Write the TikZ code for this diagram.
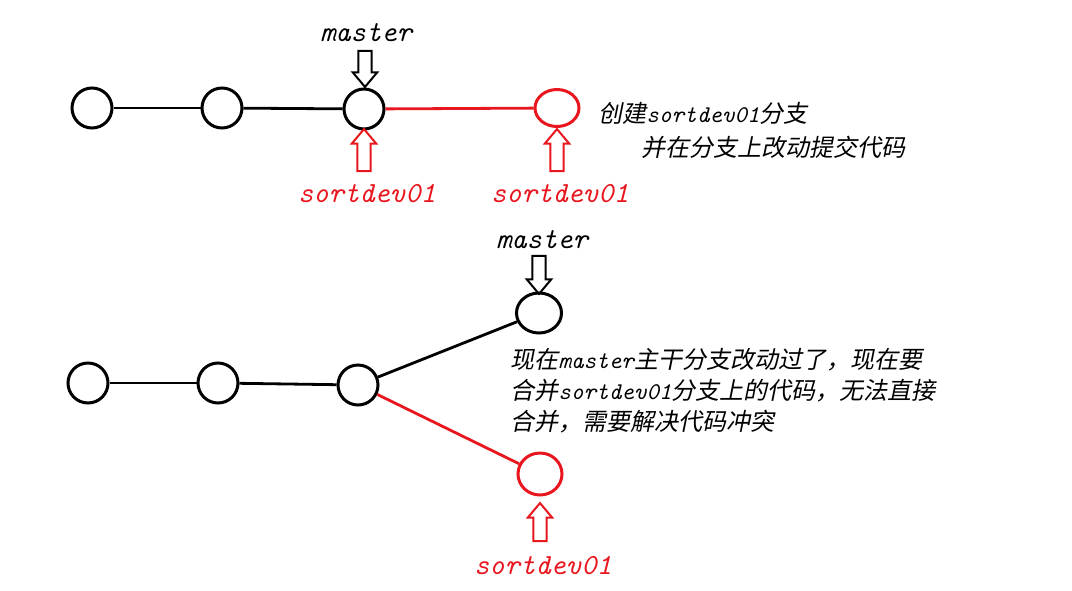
\documentclass[tikz,border=0pt]{standalone}
\usepackage{fontspec}
\usepackage{tikz}
\usetikzlibrary{shapes.geometric, shapes.arrows}
\newfontfamily\cjk{Noto Sans CJK SC}[FakeSlant=0.2]
\newcommand\latfont{\ttfamily\itshape\addfontfeature{FakeBold=1.2}}
\newcommand\lat[1]{{\latfont #1}}
\definecolor{branchred}{RGB}{232,22,30}

\begin{document}
\begin{tikzpicture}[x=0.5pt, y=-0.5pt,
    commit/.style={circle, draw, line width=1.5pt, minimum size=20pt, inner sep=0pt},
    tipcommit/.style={ellipse, draw, line width=1.5pt, inner sep=0pt},
    pointer/.style={single arrow, draw, line width=1pt, inner sep=2.8pt,
      single arrow head extend=2.8pt, single arrow tip angle=80,
      single arrow head indent=0pt},
    ref/.style={font=\fontsize{14.6}{16}\selectfont\latfont, inner sep=0pt},
    note/.style={font=\fontsize{12}{15.5}\selectfont\cjk, align=left, inner sep=0pt, anchor=west}]
    \useasboundingbox (0, 0) rectangle (1072, 590);
    \begin{scope} % Branch created
        \node [commit] (a1) at (92, 108) {};
        \node [commit] (a2) at (222, 108) {};
        \node [commit] (a3) at (364, 109) {};
        \node [tipcommit, branchred, minimum width=22pt, minimum height=18.5pt] (a4) at (557, 108) {};
        \draw [line width=1.4pt] (a1) -- (a2);
        \draw [line width=1.4pt] (a2) -- (a3);
        \draw [line width=1.4pt, branchred] (a3) -- (a4);
        \node [ref] (master1) at (366, 33) {master};
        \node [pointer, rotate=-90, minimum height=18pt] (pm1) at (365, 65) {};
        \node [pointer, branchred, rotate=90, minimum height=21pt] (ps1) at (364, 154) {};
        \node [pointer, branchred, rotate=90, minimum height=21pt] (ps2) at (557, 154) {};
        \node [ref, branchred] (dev1) at (367, 194) {sortdev01};
        \node [ref, branchred] (dev2) at (560, 194) {sortdev01};
        \node [note] (note1) at (598, 113) {创建\lat{sortdev01}分支};
        \node [note] (note2) at (641, 147) {并在分支上改动提交代码};
    \end{scope}
    \begin{scope} % Both branches moved on
        \node [commit] (b1) at (88, 383) {};
        \node [commit] (b2) at (218, 383) {};
        \node [commit] (b3) at (358, 385) {};
        \node [tipcommit, minimum width=22.5pt, minimum height=20pt] (b4) at (539, 313) {};
        \node [tipcommit, branchred, minimum width=22pt, minimum height=21pt] (b5) at (540, 474) {};
        \draw [line width=1.4pt] (b1) -- (b2);
        \draw [line width=1.4pt] (b2) -- (b3);
        \draw [line width=1.4pt] (b3) -- (b4);
        \draw [line width=1.4pt, branchred] (b3) -- (b5);
        \node [ref] (master2) at (542, 240) {master};
        \node [pointer, rotate=-90, minimum height=19pt] (pm2) at (539, 271) {};
        \node [pointer, branchred, rotate=90, minimum height=19pt] (ps3) at (540, 526) {};
        \node [ref, branchred] (dev3) at (543, 566) {sortdev01};
        \node [note] (note3) at (510, 391)
          {现在\lat{master}主干分支改动过了，现在要\\
           合并\lat{sortdev01}分支上的代码，无法直接\\
           合并，需要解决代码冲突};
    \end{scope}
\end{tikzpicture}
\end{document}
